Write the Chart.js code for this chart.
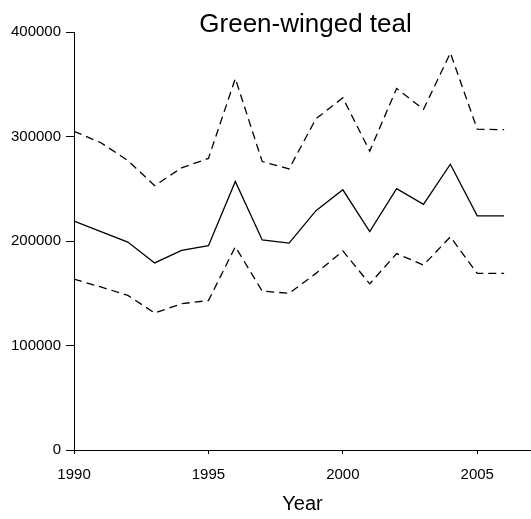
<!DOCTYPE html>
<html>
<head>
<meta charset="utf-8">
<script src="https://cdn.jsdelivr.net/npm/chart.js@4"></script>
<style>
  html, body { margin: 0; padding: 0; background: #fff; }
  #wrap { width: 531px; height: 519px; }
</style>
</head>
<body>
<div id="wrap"><canvas id="myChart" width="531" height="519"></canvas></div>
<script>
// data
const years = [1990, 1991, 1992, 1993, 1994, 1995, 1996, 1997, 1998, 1999, 2000, 2001, 2002, 2003, 2004, 2005, 2006];
const estimate = [219000, 209000, 199000, 179000, 191000, 195500, 257000, 201000, 198000, 229000, 249000, 209000, 250000, 235000, 273500, 224000, 224000];
const upper = [305000, 294000, 277000, 253000, 270000, 279000, 355500, 276000, 269000, 317000, 337000, 286000, 346000, 326000, 380000, 307000, 306500];
const lower = [163500, 156000, 148000, 131000, 140000, 143000, 194500, 152000, 150000, 169000, 190500, 159000, 188000, 177000, 204000, 169000, 169000];
const xTicks = [1990, 1995, 2000, 2005];
const yTicks = [0, 100000, 200000, 300000, 400000];
const titleText = 'Green-winged teal';

const FONT = '"Liberation Sans", Arial, sans-serif';

function pts(vals) {
  return years.map((y, i) => ({ x: y, y: vals[i] }));
}

// title drawn over the plot area, not the whole canvas
const titlePlugin = {
  id: 'plotTitle',
  afterDraw(chart) {
    const ctx = chart.ctx, a = chart.chartArea;
    ctx.save();
    ctx.font = '26px ' + FONT;
    ctx.fillStyle = '#000';
    ctx.textAlign = 'center';
    ctx.textBaseline = 'alphabetic';
    ctx.fillText(titleText, (a.left + a.right) / 2 + 3, a.top);
    ctx.restore();
  }
};

const lineStyle = { borderColor: '#000', borderWidth: 1.3, pointRadius: 0, tension: 0, fill: false };

new Chart(document.getElementById('myChart'), {
  type: 'line',
  data: {
    datasets: [
      Object.assign({ label: 'Upper', data: pts(upper), borderDash: [8, 5] }, lineStyle),
      Object.assign({ label: 'Estimate', data: pts(estimate) }, lineStyle),
      Object.assign({ label: 'Lower', data: pts(lower), borderDash: [8, 5] }, lineStyle)
    ]
  },
  options: {
    responsive: false,
    animation: false,
    layout: { padding: { left: 6, right: 0, top: 32, bottom: 0 } },
    plugins: { legend: { display: false }, title: { display: false }, tooltip: { enabled: false } },
    scales: {
      x: {
        type: 'linear',
        min: 1990,
        max: 2007,
        afterBuildTicks: s => { s.ticks = xTicks.map(v => ({ value: v })); },
        afterFit: s => { s.height = 69; },
        ticks: { color: '#000', font: { size: 15, family: FONT, lineHeight: 1 }, padding: 13, maxRotation: 0, callback: v => String(v) },
        grid: { display: true, drawOnChartArea: false, tickLength: 4, color: '#000' },
        border: { color: '#000', width: 1 },
        title: { display: true, text: 'Year', color: '#000', font: { size: 20, family: FONT }, padding: { top: 0, bottom: 3 } }
      },
      y: {
        min: 0,
        max: 400000,
        afterBuildTicks: s => { s.ticks = yTicks.map(v => ({ value: v })); },
        ticks: { color: '#000', font: { size: 15, family: FONT }, padding: 5, callback: v => String(v) },
        grid: { display: true, drawOnChartArea: false, tickLength: 8, color: '#000' },
        border: { color: '#000', width: 1 }
      }
    }
  },
  plugins: [titlePlugin]
});
</script>
</body>
</html>
